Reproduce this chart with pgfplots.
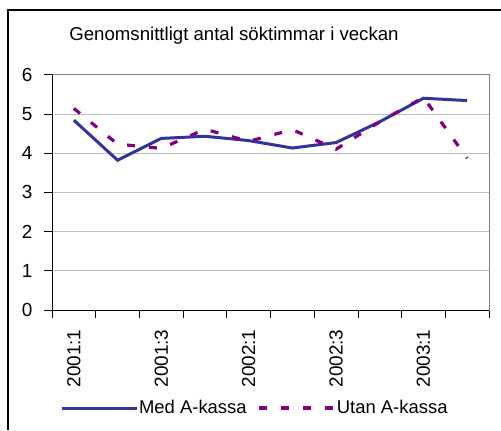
\documentclass[border=0pt]{standalone}
\usepackage{pgfplots}
\pgfplotsset{compat=1.18}
\usepackage{fontspec}
\setmainfont{Liberation Sans}
\definecolor{medblue}{HTML}{333399}
\definecolor{utanpurple}{HTML}{800080}
\definecolor{gridgray}{HTML}{C0C0C0}
\definecolor{framegray}{HTML}{808080}
\begin{document}
\begin{tikzpicture}[x=1bp,y=1bp]
\draw[line width=1.2bp,black] (8,0) -- (8,420) -- (501,420);
\node[font=\fontsize{18.7}{20}\selectfont, anchor=base] at (234,389.3) {Genomsnittligt antal söktimmar i veckan};
\begin{axis}[
  at={(52bp,120bp)}, anchor=south west,
  scale only axis, width=437bp, height=235.3bp,
  xmin=-0.5, xmax=9.5, ymin=0, ymax=6,
  ytick={0,1,2,3,4,5,6},
  xtick={-0.5,0.5,1.5,2.5,3.5,4.5,5.5,6.5,7.5,8.5,9.5},
  xticklabels={},
  extra x ticks={0,2,4,6,8},
  extra x tick labels={2001:1,2001:3,2002:1,2002:3,2003:1},
  extra x tick style={major tick length=0pt, grid=none},
  xtick pos=bottom, ytick pos=left,
  tick align=outside, major tick length=8bp,
  tick style={black, line width=0.8bp},
  ymajorgrids, grid style={gridgray, line width=0.8bp},
  axis line style={framegray, line width=1bp},
  /pgf/number format/assume math mode=true,
  ticklabel style={font=\fontsize{19}{20}\selectfont},
  yticklabel style={anchor=east, xshift=-8bp},
  xticklabel style={rotate=90, anchor=east},
  xticklabel shift=16bp,
  legend columns=2,
  legend style={at={(0.463,-0.4165)}, anchor=center, draw=none, fill=none,
    font=\fontsize{18.5}{20}\selectfont, inner sep=0pt,
    /tikz/every even column/.append style={column sep=10bp},
    nodes={inner sep=1bp}},
  legend image code/.code={\draw[#1] (0bp,0bp) -- (75bp,0bp);},
  clip=false,
]
\addplot[medblue, line width=3bp] coordinates {
(0,4.84) (1,3.82) (2,4.375) (3,4.43) (4,4.32) (5,4.13) (6,4.27) (7,4.80) (8,5.40) (9,5.34)};
\addlegendentry{Med A-kassa}
\addplot[utanpurple, line width=3.2bp, dash pattern=on 8bp off 14bp] coordinates {
(0,5.14) (1,4.23) (2,4.12) (3,4.61) (4,4.30) (5,4.60) (6,4.10) (7,4.80) (8,5.42) (9,3.87)};
\addlegendentry{Utan A-kassa}
\draw[black, line width=1bp] (rel axis cs:0,0) -- (rel axis cs:0,1);
\draw[black, line width=1bp] (rel axis cs:0,0) -- (rel axis cs:1,0);
\end{axis}
\pgfresetboundingbox
\useasboundingbox (0,0) rectangle (501,430);
\end{tikzpicture}
\end{document}
